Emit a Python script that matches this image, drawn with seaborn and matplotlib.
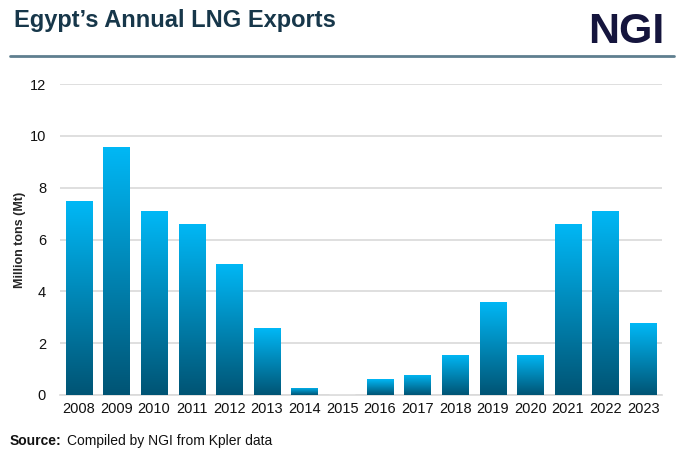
import numpy as np
import pandas as pd
import seaborn as sns
import matplotlib.pyplot as plt
from matplotlib.colors import LinearSegmentedColormap
from matplotlib.lines import Line2D

years = [str(y) for y in range(2008, 2024)]
exports_mt = [7.47, 9.57, 7.09, 6.61, 5.07, 2.57, 0.28, 0.0,
              0.60, 0.79, 1.55, 3.60, 1.55, 6.61, 7.11, 2.77]

sns.set_style("white")
plt.rcParams["font.family"] = ["Liberation Sans", "DejaVu Sans"]

df = pd.DataFrame({"year": years, "mt": exports_mt})

fig = plt.figure(figsize=(6.84, 4.57), dpi=100)
ax = fig.add_axes([60 / 684, 1 - 395 / 457, 602 / 684, 311 / 457])

sns.barplot(data=df, x="year", y="mt", color="#00b0f0", width=0.7,
            saturation=1, ax=ax, zorder=3)

# vertical gradient fill clipped to each bar
grad = LinearSegmentedColormap.from_list("g", ["#005474", "#00b8f6"])
gimg = np.linspace(0, 1, 256).reshape(-1, 1)
for patch in ax.patches:
    x0, y0 = patch.get_x(), patch.get_y()
    w, h = patch.get_width(), patch.get_height()
    if h <= 0:
        continue
    patch.set_facecolor("none")
    patch.set_edgecolor("none")
    im = ax.imshow(gimg, cmap=grad, aspect="auto", origin="lower",
                   extent=(x0, x0 + w, y0, y0 + h), zorder=3)
    im.set_clip_path(patch)

ax.set_xlim(-0.5, 15.5)
ax.set_ylim(0, 12)
ax.set_yticks(range(0, 13, 2))
ax.yaxis.grid(True, color="#d9d9d9", linewidth=1.2, zorder=0)
ax.set_axisbelow(True)
for s in ["top", "right", "left"]:
    ax.spines[s].set_visible(False)
ax.spines["bottom"].set_color("#d9d9d9")
ax.spines["bottom"].set_linewidth(1.2)
ax.tick_params(axis="both", length=0, labelsize=10.5, colors="#111111")
ax.tick_params(axis="y", pad=10)
ax.tick_params(axis="x", pad=5)
ax.set_xlabel("")
ax.set_ylabel("Million tons (Mt)", fontsize=9, fontweight="bold")
ax.yaxis.set_label_coords(-34 / 602, 0.5)

fig.text(14 / 684, 1 - 21 / 457, "Egypt\u2019s Annual LNG Exports", fontsize=17,
         fontweight="bold", color="#17374a", va="center", ha="left")
fig.text(664 / 684, 1 - 32 / 457, "NGI", fontsize=31, fontweight="bold",
         color="#15153d", va="center", ha="right")
fig.add_artist(Line2D([10 / 684, 674 / 684], [1 - 56 / 457, 1 - 56 / 457],
                      color="#5f7f8f", linewidth=2))
fig.text(10 / 684, 1 - 441 / 457, "Source:", fontsize=10, fontweight="bold",
         color="#111111", va="center", ha="left")
fig.text(67 / 684, 1 - 441 / 457, "Compiled by NGI from Kpler data", fontsize=10,
         color="#111111", va="center", ha="left")

fig.savefig("out.png", dpi=100)
